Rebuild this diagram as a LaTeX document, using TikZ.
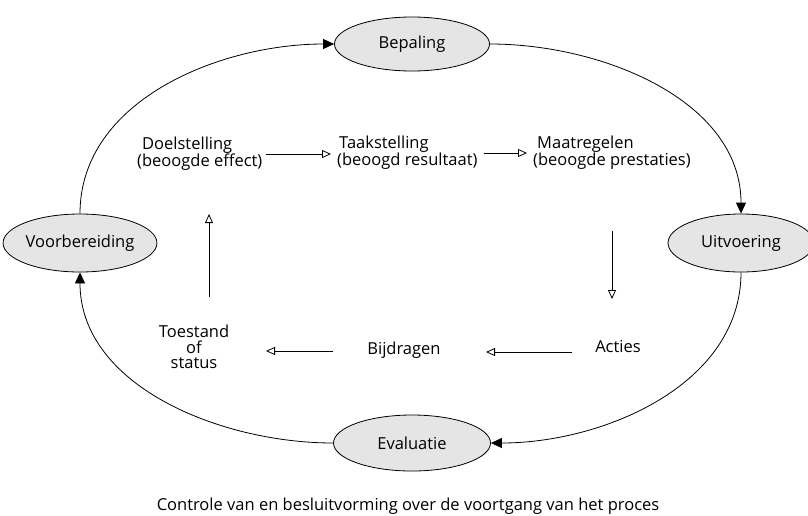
\documentclass[tikz,border=0pt]{standalone}
\usepackage{fontspec}
\setmainfont{Open Sans}
\usetikzlibrary{arrows.meta,shapes.geometric}
\begin{document}
\begin{tikzpicture}[x=1pt,y=-1pt,
  font=\fontsize{16.5}{17}\selectfont,
  phase/.style={ellipse,draw,fill=gray!20,line width=0.8pt,inner sep=0pt},
  cycle/.style={line width=0.8pt,-{Triangle[length=11pt,width=10pt]}},
  flow/.style={line width=0.8pt,-{Triangle[open,length=9pt,width=8pt]}},
  lbl/.style={align=left,inner sep=0pt,anchor=west},
  ctr/.style={align=center,inner sep=0pt}]
\useasboundingbox[fill=white] (0,0) rectangle (808,515);
\clip (0,0) rectangle (808,515);
% phases
\node[phase,minimum width=155pt,minimum height=54pt] (bep) at (412,44) {Bepaling};
\node[phase,minimum width=148pt,minimum height=58pt] (voo) at (80,243) {Voorbereiding};
\node[phase,minimum width=146pt,minimum height=58pt] (uit) at (741,243) {Uitvoering};
\node[phase,minimum width=157pt,minimum height=56pt] (eva) at (412,443) {Evaluatie};
% cycle arcs
\draw[cycle] (voo.north) to[out=90,in=180,looseness=0.95] (bep.west);
\draw[cycle] (bep.east) to[out=0,in=90,looseness=0.95] (uit.north);
\draw[cycle] (uit.south) to[out=-90,in=0,looseness=0.95] (eva.east);
\draw[cycle] (eva.west) to[out=180,in=-90,looseness=0.95] (voo.south);
% inner flow
\node[lbl] (doel) at (137,154) {\hspace*{5pt}Doelstelling\\(beoogde effect)};
\node[lbl] (taak) at (337,153) {\hspace*{2pt}Taakstelling\\(beoogd resultaat)};
\node[lbl] (maat) at (533,153) {\hspace*{4pt}Maatregelen\\(beoogde prestaties)};
\node[ctr] (act) at (618,347) {Acties};
\node[ctr] (bij) at (404,350) {Bijdragen};
\node[ctr,font=\fontsize{16.5}{15.5}\selectfont] (toe) at (194,347) {Toestand\\of\\status};
\coordinate (a1s) at (266,154); \coordinate (a1e) at (331,154);
\coordinate (a2s) at (484,153); \coordinate (a2e) at (527,153);
\coordinate (a3s) at (612,231); \coordinate (a3e) at (612,299);
\coordinate (a4s) at (572,352); \coordinate (a4e) at (486,352);
\coordinate (a5s) at (333,351); \coordinate (a5e) at (266,351);
\coordinate (a6s) at (209,297); \coordinate (a6e) at (209,214);
\draw[flow] (a1s) -- (a1e);
\draw[flow] (a2s) -- (a2e);
\draw[flow] (a3s) -- (a3e);
\draw[flow] (a4s) -- (a4e);
\draw[flow] (a5s) -- (a5e);
\draw[flow] (a6s) -- (a6e);
% caption
\node[ctr] (cap) at (408,506) {Controle van en besluitvorming over de voortgang van het proces};
\end{tikzpicture}
\end{document}
